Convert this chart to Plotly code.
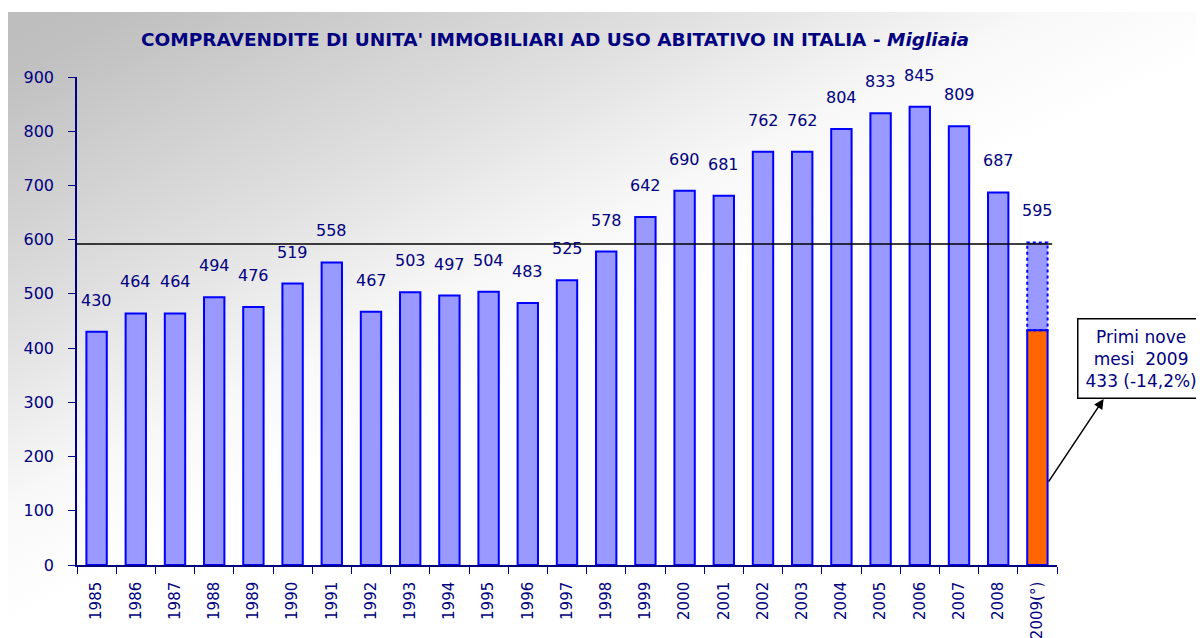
import base64
import plotly.graph_objects as go

# ---- data ----
anni = ["1985", "1986", "1987", "1988", "1989", "1990", "1991", "1992", "1993",
        "1994", "1995", "1996", "1997", "1998", "1999", "2000", "2001", "2002",
        "2003", "2004", "2005", "2006", "2007", "2008", "2009(°)"]
compravendite = [430, 464, 464, 494, 476, 519, 558, 467, 503, 497, 504, 483, 525,
                 578, 642, 690, 681, 762, 762, 804, 833, 845, 809, 687, 595]
primi_nove_mesi_2009 = 433
media = 592
y_ticks = [0, 100, 200, 300, 400, 500, 600, 700, 800, 900]
titolo = "COMPRAVENDITE DI UNITA' IMMOBILIARI AD USO ABITATIVO IN ITALIA - <i>Migliaia</i>"
nota = "Primi nove<br>mesi  2009<br>433 (-14,2%)"

NAVY = "#000080"
BAR_FILL = "#9999ff"
BAR_LINE = "#0000ff"
ORANGE = "#ff6600"
FONT = "DejaVu Sans"
W = 0.52

n = len(anni)
pos = list(range(n))
boundaries = [p - 0.5 for p in pos] + [n - 0.5]
line_w = [2] * (n - 1) + [0]

fig = go.Figure()
fig.add_trace(go.Bar(
    x=pos, y=compravendite, width=W,
    marker=dict(color=BAR_FILL, line=dict(color=BAR_LINE, width=line_w)),
    customdata=anni, hovertemplate="%{customdata}: %{y}<extra></extra>",
    showlegend=False))
fig.add_trace(go.Bar(
    x=[pos[-1]], y=[primi_nove_mesi_2009], width=W,
    marker=dict(color=ORANGE, line=dict(color=BAR_LINE, width=2)),
    showlegend=False))

# dotted outline for the estimated part of 2009
idx = pos[-1]
fig.add_shape(type="rect", xref="x", yref="y",
              x0=idx - W / 2, x1=idx + W / 2,
              y0=primi_nove_mesi_2009, y1=compravendite[-1],
              line=dict(color=BAR_LINE, width=2, dash="dot"),
              fillcolor="rgba(0,0,0,0)", layer="above")

# average line
fig.add_shape(type="line", xref="x domain", yref="y", x0=0, x1=0.995,
              y0=media, y1=media, line=dict(color="black", width=1.5))

# value labels
for p, v in zip(pos, compravendite):
    fig.add_annotation(x=p, y=v, text=str(v), showarrow=False, yanchor="bottom",
                       yshift=20, font=dict(family=FONT, size=16, color=NAVY))

# note box
fig.add_annotation(x=1.086, xref="x domain", y=380, yref="y", text=nota,
                   xanchor="center", yanchor="middle",
                   showarrow=False, bgcolor="white", bordercolor="black",
                   borderwidth=1.5, borderpad=7, align="center",
                   font=dict(family=FONT, size=17, color=NAVY))
# arrow from bar to box
fig.add_annotation(x=idx + W / 2 + 1.43, xref="x", y=306, yref="y",
                   ax=idx + W / 2, axref="x", ay=151, ayref="y",
                   text="", showarrow=True, arrowhead=2, arrowsize=1.3,
                   arrowwidth=1.5, arrowcolor="black")

# gradient background
svg = ('<svg xmlns="http://www.w3.org/2000/svg" width="1300" height="615" '
       'preserveAspectRatio="none">'
       '<defs><linearGradient id="g" x1="0" y1="0" x2="1" y2="1">'
       '<stop offset="0" stop-color="#bdbdbd"/>'
       '<stop offset="0.05" stop-color="#c0c0c0"/>'
       '<stop offset="0.25" stop-color="#dedede"/>'
       '<stop offset="0.40" stop-color="#f8f8f8"/>'
       '<stop offset="0.5" stop-color="#ffffff"/>'
       '<stop offset="1" stop-color="#ffffff"/>'
       '</linearGradient></defs>'
       '<rect width="1300" height="615" fill="url(#g)"/></svg>')
src = "data:image/svg+xml;base64," + base64.b64encode(svg.encode()).decode()
L, T, PW, PH = 69, 69, 980, 488
fig.add_layout_image(source=src, xref="paper", yref="paper",
                     x=(0 - L) / PW, y=(T + PH - 4) / PH,
                     sizex=1300 / PW, sizey=615 / PH,
                     sizing="stretch", xanchor="left", yanchor="top",
                     layer="below")

fig.update_layout(
    width=1204, height=638,
    margin=dict(l=L, r=1204 - L - PW, t=T, b=638 - T - PH, autoexpand=False),
    paper_bgcolor="white", plot_bgcolor="rgba(0,0,0,0)",
    barmode="overlay",
    title=dict(text="<b>" + titolo + "</b>", x=547 / 1204, xanchor="center",
               y=1 - 32 / 638, yanchor="middle",
               font=dict(family=FONT, size=18.5, color=NAVY)),
    font=dict(family=FONT, color=NAVY),
)
fig.update_xaxes(range=[-0.5, n - 0.5], tickvals=pos, ticktext=anni,
                 tickangle=-90, showline=True, linecolor=NAVY, linewidth=1.5,
                 ticks="", showgrid=False, zeroline=False, ticklabelstandoff=9,
                 automargin=False,
                 minor=dict(tickvals=boundaries, ticks="outside", ticklen=7,
                            tickcolor=NAVY, showgrid=False),
                 tickfont=dict(family=FONT, size=15, color=NAVY))
fig.update_yaxes(range=[0, 900], tickvals=y_ticks, showline=True, linecolor=NAVY,
                 linewidth=1.5, ticks="outside", ticklen=7, tickcolor=NAVY,
                 showgrid=False, zeroline=False, ticklabelstandoff=11,
                 automargin=False,
                 tickfont=dict(family=FONT, size=16, color=NAVY))

fig.write_html("out.html")
